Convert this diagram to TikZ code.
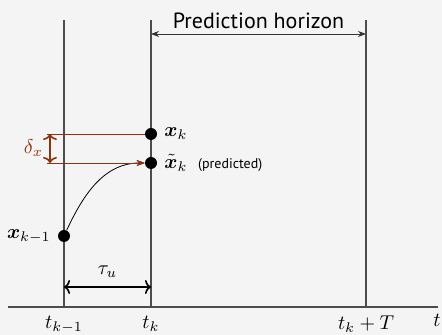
\documentclass[tikz,border=0pt]{standalone}
\usepackage{amsmath,bm}
\usepackage{fontspec}
\setsansfont{PT Sans}
\usetikzlibrary{arrows.meta, positioning, calc}

\definecolor{bggray}{HTML}{F4F4F4}
\definecolor{deltabrown}{RGB}{140,52,14}

\begin{document}
\begin{tikzpicture}[
  x=0.5pt, y=0.5pt,
  font=\sffamily,
  timeline/.style={draw=black!70, line width=0.6pt},
  state/.style={circle, fill=black, inner sep=0pt, minimum size=6pt},
  dimarrow/.style={{To[length=3pt,width=7pt]}-{To[length=3pt,width=7pt]}, line width=0.8pt},
]
\fill[bggray] (0,0) rectangle (442,335);
\useasboundingbox (0,0) rectangle (442,335);

% time axis
\coordinate (ax_start) at (8,28);
\coordinate (ax_end) at (438,28);
\draw[timeline] (ax_start) -- (ax_end);
\node (t_lbl) at (437,15) {$t$};

% sampling instants
\coordinate (tkm1) at (64,28);
\coordinate (tk) at (151,28);
\coordinate (tkT) at (366,28);
\coordinate (tkm1_top) at (64,315);
\coordinate (tk_top) at (151,315);
\coordinate (tkT_top) at (366,315);
\draw[timeline] (tkm1) -- (tkm1_top);
\draw[timeline] (tk) -- (tk_top);
\draw[timeline] (tkT) -- (tkT_top);
\node (tkm1_lbl) [below=1pt of tkm1] {$t_{k-1}$};
\node (tk_lbl) [below=1pt of tk] {$t_k$};
\node (tkT_lbl) [below=1pt of tkT] {$t_k+T$};

% prediction horizon
\coordinate (ph_start) at (151,301);
\coordinate (ph_end) at (366,301);
\coordinate (ph_mid) at ($(ph_start)!0.5!(ph_end)$);
\draw[{Stealth[length=4pt]}-{Stealth[length=4pt]}, black!80] (ph_start) -- (ph_end);
\node (ph_lbl) [above=-1pt of ph_mid, font=\sffamily\fontsize{11}{13}\selectfont] {Prediction horizon};

% states
\node [state] (xkm1) at (64,99) {};
\node [state] (xk) at (151,201) {};
\node [state] (xkt) at (151,172) {};
\node (xkm1_lbl) [left=0pt of xkm1] {$\bm{x}_{k-1}$};
\node (xk_lbl) [right=0pt of xk] {$\bm{x}_k$};
\node (xkt_lbl) [right=0pt of xkt] {$\tilde{\bm{x}}_k$\ \ {\scriptsize(predicted)}};

\draw[-{Stealth[length=4pt]}] (xkm1) to[out=65, in=180] (xkt);

% deviation
\coordinate (dl_top) at (47,201);
\coordinate (dl_bot) at (47,172);
\coordinate (da_top) at (50,201);
\coordinate (da_bot) at (50,172);
\coordinate (da_mid) at ($(da_top)!0.5!(da_bot)$);
\draw[deltabrown] (dl_top) -- (xk);
\draw[deltabrown, -{Stealth[length=4pt]}] (dl_bot) -- (xkt);
\draw[dimarrow, deltabrown] (da_top) -- (da_bot);
\node (delta_lbl) [left=0pt of da_mid, text=deltabrown] {$\delta_x$};

% sampling period
\coordinate (tau_start) at (64,48);
\coordinate (tau_end) at (151,48);
\coordinate (tau_mid) at ($(tau_start)!0.5!(tau_end)$);
\draw[dimarrow] (tau_start) -- (tau_end);
\node (tau_lbl) [above=1pt of tau_mid] {$\tau_u$};
\end{tikzpicture}
\end{document}
